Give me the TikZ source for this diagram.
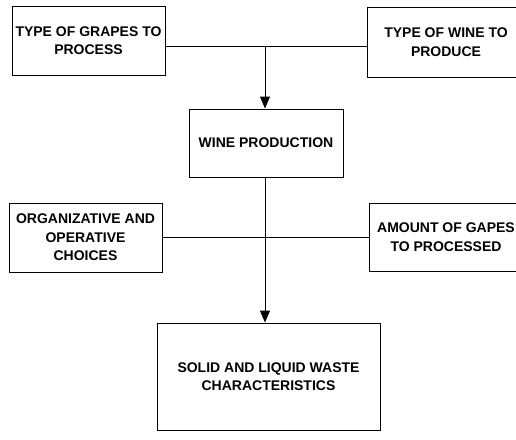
\documentclass[tikz,border=0pt]{standalone}
\usepackage{fontspec}
\setmainfont{Liberation Sans}
\usetikzlibrary{arrows.meta}

\begin{document}
\begin{tikzpicture}[x=1pt,y=-1pt,line width=1pt,
    box/.style={draw=black,align=center,inner sep=0pt,
        font=\fontsize{14}{18.5}\selectfont\bfseries},
    flow/.style={-{Triangle[length=12pt,width=10pt]}}]
                \useasboundingbox (0,0) rectangle (516,439);
                \clip (0,0) rectangle (516,439);
                \node[box,minimum width=153pt,minimum height=69pt](grapes)at(88.5, 40.5){TYPE OF GRAPES TO\\PROCESS};
                \node[box,minimum width=158pt,minimum height=70pt](wine)at(446, 42){TYPE OF WINE TO\\PRODUCE};
                \node[box,minimum width=154pt,minimum height=68pt](prod)at(266, 143){WINE PRODUCTION};
                \node[box,minimum width=153pt,minimum height=69pt](choices)at(85.5, 237.5){ORGANIZATIVE AND\\OPERATIVE\\CHOICES};
                \node[box,minimum width=154pt,minimum height=68pt](amount)at(446, 237){AMOUNT OF GAPES\\TO PROCESSED};
                \node[box,minimum width=223pt,minimum height=107pt](waste)at(268.5, 376.5){SOLID AND LIQUID WASTE\\CHARACTERISTICS};
                % junctions on the vertical flow line
                \coordinate(top)at(265, 46);
                \coordinate(mid)at(265, 237);
                \draw (grapes.east |- top) -- (wine.west |- top);
                \draw[flow] (top) -- (top |- prod.north);
                \draw (choices.east |- mid) -- (amount.west |- mid);
                \draw[flow] (top |- prod.south) -- (top |- waste.north);
            \end{tikzpicture}
\end{document}
